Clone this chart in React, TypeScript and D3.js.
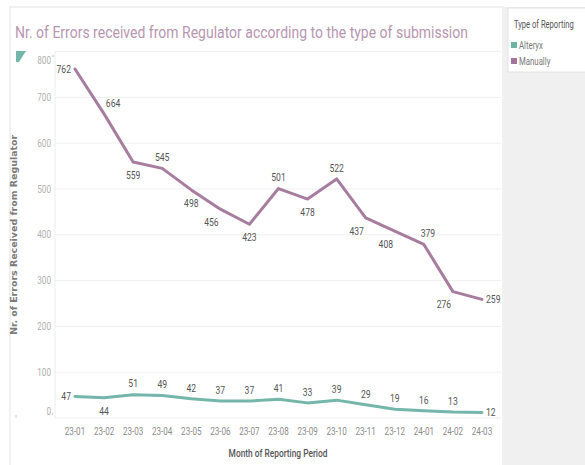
import React from "react";
import * as d3 from "d3";

const months = ["23-01","23-02","23-03","23-04","23-05","23-06","23-07","23-08","23-09","23-10","23-11","23-12","24-01","24-02","24-03"];
const manually = [762,664,559,545,498,456,423,501,478,522,437,408,379,276,259];
const alteryx = [47,44,51,49,42,37,37,41,33,39,29,19,16,13,12];
const manuallyLabelPos = ["left","aboveRight","below","above","below","belowLeft","below","above","below","above","belowLeft","belowLeft","aboveRight2","belowLeft","right"];
const alteryxLabelPos = ["left","below","above","above","above","above","above","above","above","above","above","above","above","above","right"];
const yTicks = [0,100,200,300,400,500,600,700,800];
const seriesNames = ["Alteryx","Manually"];

const W = 585, H = 465;
const TEAL = "#74b6aa";
const MAUVE = "#a67d9e";
const FONT = "Roboto,'Noto Sans',sans-serif";
const SX = 0.78;

function offset(pos: string) {
  switch (pos) {
    case "left": return { dx: -4, dy: 0, anchor: "end" };
    case "right": return { dx: 4, dy: 0, anchor: "start" };
    case "above": return { dx: 0, dy: -11, anchor: "middle" };
    case "below": return { dx: 0, dy: 13, anchor: "middle" };
    case "belowLeft": return { dx: -9, dy: 13, anchor: "middle" };
    case "aboveRight": return { dx: 9, dy: -11, anchor: "middle" };
    case "aboveRight2": return { dx: 4, dy: -11, anchor: "middle" };
    default: return { dx: 0, dy: -11, anchor: "middle" };
  }
}

function CText(props: { x: number; y: number; anchor?: string; size: number; fill: string; weight?: string; sx?: number; children: any }) {
  const sx = props.sx ?? SX;
  return (
    <text
      transform={`translate(${props.x},${props.y}) scale(${sx},1)`}
      dy="0.35em"
      textAnchor={(props.anchor || "start") as any}
      fontFamily={FONT}
      fontSize={props.size}
      fontWeight={props.weight || "normal"}
      fill={props.fill}
    >
      {props.children}
    </text>
  );
}

export default function App() {
  const x = d3.scalePoint<string>().domain(months).range([75, 482]);
  const y = d3.scaleLinear().domain([0, 800]).range([418, 51.6]);
  const line = d3.line<number>().x((_, i) => x(months[i]) as number).y((d) => y(d));
  const series = [
    { name: "Alteryx", values: alteryx, color: TEAL, pos: alteryxLabelPos },
    { name: "Manually", values: manually, color: MAUVE, pos: manuallyLabelPos },
  ];
  return (
    <svg width={W} height={H} style={{ position: "absolute", left: 0, top: 0, background: "#fff" }}>
      {/* legend panel */}
      <rect x={504} y={7} width={81} height={H} fill="#f0f0f0" />
      <rect x={508} y={8} width={80} height={64} fill="#fff" stroke="#e2e2e2" />
      {/* chart frame */}
      <rect x={10} y={7} width={493} height={H + 10} fill="#fff" stroke="#e4e4e4" />

      <text x={15} y={38} fontFamily={FONT} fontSize={17} fill="#b896b0" textLength={453} lengthAdjust="spacingAndGlyphs">
        Nr. of Errors received from Regulator according to the type of submission
      </text>

      {/* teal flag icon */}
      <polygon points="16,51 26,51 19,62 16,62" fill={TEAL} />

      {/* gridlines */}
      {yTicks.map((t) => (
        <line key={t} x1={55} x2={501} y1={y(t)} y2={y(t)} stroke="#efefef" strokeWidth={1} />
      ))}
      <line x1={55} x2={55} y1={51} y2={418} stroke="#ececec" />

      {/* y tick labels */}
      {yTicks.map((t, i) => {
        const yy = i === 0 ? y(t) - 7 : i === yTicks.length - 1 ? y(t) + 9 : y(t);
        return (
          <CText key={t} x={51} y={yy} anchor="end" size={10.5} fill="#b0b0b0">
            {t}
          </CText>
        );
      })}
      <line x1={53} x2={53} y1={55} y2={57} stroke="#bbb" />
      <line x1={53} x2={52} y1={413} y2={415} stroke="#bbb" />
      <line x1={16} x2={16} y1={415} y2={418} stroke="#ccc" />

      {/* y axis title */}
      <text
        transform={`translate(17,${(y(0) + y(800)) / 2}) rotate(-90)`}
        textAnchor="middle"
        fontFamily="'DejaVu Sans',sans-serif"
        fontWeight="bold"
        fontSize={9}
        fill="#7a7a7a"
        textLength={200}
        lengthAdjust="spacingAndGlyphs"
      >
        Nr. of Errors Received from Regulator
      </text>

      {/* x tick labels */}
      {months.map((m) => (
        <CText key={m} x={x(m) as number} y={431} anchor="middle" size={10.5} fill="#8c8c8c" sx={0.77}>
          {m}
        </CText>
      ))}
      <CText x={278} y={453} anchor="middle" size={11} weight="500" fill="#555" sx={0.76}>
        Month of Reporting Period
      </CText>

      {/* lines */}
      {series.map((s) => (
        <path key={s.name} d={line(s.values) || ""} fill="none" stroke={s.color} strokeWidth={3} strokeLinejoin="round" strokeLinecap="round" />
      ))}

      {/* labels */}
      {series.map((s) =>
        s.values.map((v, i) => {
          const o = offset(s.pos[i]);
          return (
            <CText key={s.name + i} x={(x(months[i]) as number) + o.dx} y={y(v) + o.dy} anchor={o.anchor} size={11} fill="#555">
              {v}
            </CText>
          );
        })
      )}

      {/* legend */}
      <CText x={514} y={24} size={10} fill="#555" sx={0.76}>Type of Reporting</CText>
      {seriesNames.map((n, i) => (
        <g key={n}>
          <rect x={511} y={42 + i * 16} width={6} height={6} fill={i === 0 ? "#6db3a6" : "#a4739c"} />
          <CText x={519} y={45 + i * 16} size={10} fill="#777">{n}</CText>
        </g>
      ))}
    </svg>
  );
}
